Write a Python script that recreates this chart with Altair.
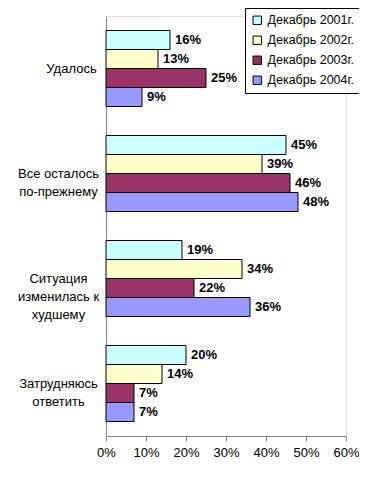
import altair as alt
import pandas as pd

categories = ["Удалось", "Все осталось|по-прежнему", "Ситуация|изменилась к|худшему", "Затрудняюсь|ответить"]
years = ["Декабрь 2001г.", "Декабрь 2002г.", "Декабрь 2003г.", "Декабрь 2004г."]
v2001 = [16, 45, 19, 20]
v2002 = [13, 39, 34, 14]
v2003 = [25, 46, 22, 7]
v2004 = [9, 48, 36, 7]
colors = ["#CCFFFF", "#FFFFCC", "#993366", "#9999FF"]
x_ticks = [0, 10, 20, 30, 40, 50, 60]

rows = []
for yr, vals in zip(years, [v2001, v2002, v2003, v2004]):
    for c, v in zip(categories, vals):
        rows.append({"cat": c, "year": yr, "value": v, "label": f"{v}%"})
df = pd.DataFrame(rows)

FONT = "Liberation Sans"

y_enc = alt.Y(
    "cat:N",
    sort=categories,
    scale=alt.Scale(paddingInner=0.276, paddingOuter=0.138),
    axis=alt.Axis(
        title=None,
        labelExpr="split(datum.label, '|')",
        labelAlign="center",
        labelBaseline="middle",
        labelLineHeight=18,
        labelFontSize=13,
        labelLimit=200,
        ticks=False,
        tickSize=0,
        labelPadding={"condition": {"test": "datum.value == 'Удалось'", "value": 35}, "value": 48},
    ),
)
yoff = alt.YOffset("year:N", sort=years, scale=alt.Scale(paddingInner=0, paddingOuter=0))
x_enc = alt.X(
    "value:Q",
    scale=alt.Scale(domain=[0, 60], nice=False),
    axis=alt.Axis(values=x_ticks, labelExpr="datum.value + '%'", title=None, grid=False,
                  tickSize=5, labelPadding=5, labelFontSize=13, labelOverlap=False,
                  labelFlush=False),
)

base = alt.Chart(df)

bars = base.mark_bar(stroke="black", strokeWidth=1).encode(
    x=x_enc,
    y=y_enc,
    yOffset=yoff,
    color=alt.Color(
        "year:N",
        sort=years,
        scale=alt.Scale(domain=years, range=colors),
        legend=alt.Legend(
            title=None, orient="none", legendX=139, legendY=-8,
            strokeColor="black", fillColor="white", padding=6,
            symbolType="square", symbolSize=70, symbolStrokeColor="black", symbolStrokeWidth=1,
            labelFontSize=12.5, labelFont=FONT, labelColor="black", rowPadding=7,
        ),
    ),
)

texts = base.mark_text(align="left", baseline="middle", dx=5, fontWeight="bold",
                       fontSize=13, font=FONT, color="black").encode(
    x=x_enc,
    y=y_enc,
    yOffset=yoff,
    text="label:N",
)

chart = (
    alt.layer(bars, texts)
    .properties(width=240, height=420, autosize=alt.AutoSizeParams(type="none"),
                padding={"left": 98, "top": 8, "right": 13, "bottom": 38})
    .configure_view(stroke=None)
    .configure_axis(labelFont=FONT, labelColor="black", domainColor="black", tickColor="black",
                    domainWidth=1)
    .configure(background="white")
)

chart.save("out.html", embed_options={"renderer": "svg", "actions": False})
